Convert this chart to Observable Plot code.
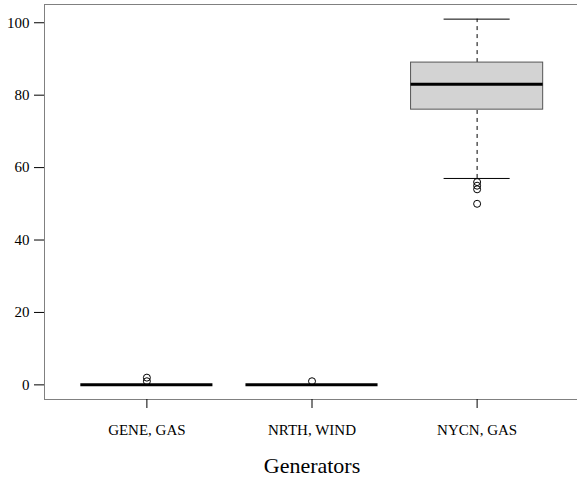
<!DOCTYPE html>
<html>
<head>
<meta charset="utf-8">
<script src="https://cdn.jsdelivr.net/npm/d3@7"></script>
<script src="https://cdn.jsdelivr.net/npm/@observablehq/plot@0.6"></script>
<style>
  html, body { margin: 0; padding: 0; background: #fff; overflow: hidden; }
  #chart { width: 577px; height: 477px; overflow: hidden; }
  #chart svg { display: block; }
</style>
</head>
<body>
<div id="chart"></div>
<script>
const categories = ["GENE, GAS", "NRTH, WIND", "NYCN, GAS"];
const lowerWhisker = [0, 0, 57];
const q1 = [0, 0, 76];
const median = [0, 0, 83];
const q3 = [0, 0, 89];
const upperWhisker = [0, 0, 101];
const outlierGroup = ["GENE, GAS", "GENE, GAS", "NRTH, WIND", "NYCN, GAS", "NYCN, GAS", "NYCN, GAS", "NYCN, GAS"];
const outlierValue = [1, 2, 1, 56, 55, 54, 50];
const yTicks = [0, 20, 40, 60, 80, 100];
const xLabel = "Generators";

const boxes = categories.map((c, i) => ({
  name: c, pos: i + 1,
  lo: lowerWhisker[i], q1: q1[i], med: median[i], q3: q3[i], hi: upperWhisker[i]
}));
const outliers = outlierGroup.map((g, i) => ({ pos: categories.indexOf(g) + 1, v: outlierValue[i] }));

const chart = Plot.plot({
  width: 579,
  height: 477,
  marginLeft: 44,
  marginRight: 0,
  marginTop: 4,
  marginBottom: 78,
  style: { fontFamily: "'Liberation Serif', 'Times New Roman', serif", fontSize: "15px", background: "#fff", color: "#000", maxWidth: "none" },
  x: { type: "linear", domain: [0.38, 3.62], label: null },
  y: { domain: [-4.04, 105.04], label: null },
  marks: [
    Plot.frame({ stroke: "#808080" }),
    Plot.ruleX(boxes, { x: "pos", y1: "q3", y2: "hi", stroke: "#000", strokeDasharray: "4,4" }),
    Plot.ruleX(boxes, { x: "pos", y1: "lo", y2: "q1", stroke: "#000", strokeDasharray: "4,4" }),
    Plot.ruleY(boxes, { y: "hi", x1: d => d.pos - 0.2, x2: d => d.pos + 0.2, stroke: "#000" }),
    Plot.ruleY(boxes, { y: "lo", x1: d => d.pos - 0.2, x2: d => d.pos + 0.2, stroke: "#000" }),
    Plot.rect(boxes, { x1: d => d.pos - 0.4, x2: d => d.pos + 0.4, y1: "q1", y2: "q3", fill: "#d3d3d3", stroke: "#555" }),
    Plot.ruleY(boxes, { y: "med", x1: d => d.pos - 0.4, x2: d => d.pos + 0.4, stroke: "#000", strokeWidth: 3 }),
    Plot.dot(outliers, { x: "pos", y: "v", r: 3.5, stroke: "#000", fill: "none", strokeWidth: 1 }),
    Plot.axisY({ ticks: yTicks, tickSize: 10, tickPadding: 5, stroke: "#000", fontSize: 15, label: null }),
    Plot.axisX({ ticks: [1, 2, 3], tickFormat: d => categories[d - 1], tickSize: 9, tickPadding: 16, stroke: "#000", fontSize: 15, label: null }),
    Plot.text([xLabel], { text: d => d, x: 2, frameAnchor: "bottom", lineAnchor: "bottom", dy: 73, fontSize: 22 })
  ]
});
document.getElementById("chart").appendChild(chart);
</script>
</body>
</html>
